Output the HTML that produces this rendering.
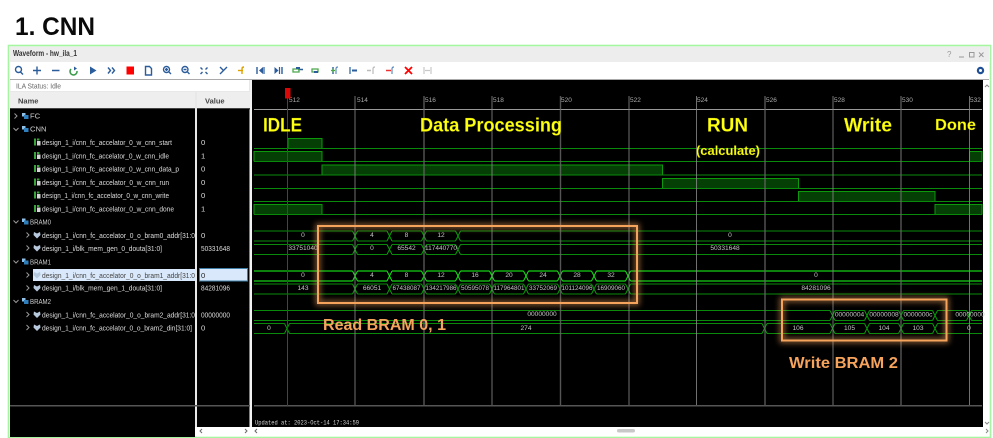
<!DOCTYPE html>
<html><head><meta charset="utf-8"><style>
html,body{margin:0;padding:0;background:#fff;width:993px;height:438px;overflow:hidden}
svg{display:block;filter:blur(.25px)}
text{font-family:"Liberation Sans",sans-serif}
.n{font-size:7.6px;fill:#ddd}
.v{font-size:7.6px;fill:#ddd}
.w{font-size:6.6px;fill:#c4c4c4;text-anchor:middle}
.t{font-size:6.5px;fill:#aaa}
.g{font-size:7.6px;fill:#ccc}
.y{font-weight:bold;fill:#ffff10;stroke:#7a8000;stroke-width:.25}
.o{font-weight:bold;fill:#f6a35c}
</style></head><body>
<svg width="993" height="438" viewBox="0 0 993 438" xmlns="http://www.w3.org/2000/svg">
<defs>
<filter id="gl" x="-15%" y="-25%" width="130%" height="150%"><feGaussianBlur stdDeviation="3"/></filter>
<g id="x"><rect x="-2.5" y="-1" width="5" height="12" fill="#000"/><path d="M-2.5 0 2.5 10M-2.5 10 2.5 0" fill="none" stroke="currentColor" stroke-width="1"/></g>
<g id="c"><path d="M-1.5 -2.5 1 0-1.5 2.5" fill="none" stroke="#999" stroke-width="1"/></g>
<g id="d"><path d="M-2.5 -1 0 1.5 2.5 -1" fill="none" stroke="#999" stroke-width="1"/></g>
<g id="f"><rect x="0" y="-3" width="3.5" height="3.5" fill="#8fc1e8"/><rect x="2" y="-1" width="4.5" height="4" fill="#2f7fbc"/></g>
<g id="s"><rect x="0" y="-3.5" width="2" height="7" fill="#3aa53a"/><rect x="3" y="-1" width="3.5" height="4.5" fill="#d5d5d5"/><rect x="3" y="-3.5" width="2.5" height="2" fill="#3aa53a"/></g>
<g id="b"><path d="M0 -3 3 -1.5 6 -3 6.5 0 3 3.5 -.5 0Z" fill="#b6c8dc"/></g>
</defs>

<rect width="993" height="438" fill="#fff"/>
<text x="15" y="35" font-size="25" font-weight="bold" textLength="80" lengthAdjust="spacingAndGlyphs" fill="#0a0a0a">1. CNN</text>

<!-- window -->
<rect x="8.5" y="45.5" width="982" height="392" fill="#fff" stroke="#a6f5a0" stroke-width="1.6"/>
<rect x="10" y="46.500" width="979" height="15.500" fill="#ededed"/>
<text x="13" y="56" font-size="7.800" font-weight="bold" fill="#333" textLength="64" lengthAdjust="spacingAndGlyphs">Waveform - hw_ila_1</text>
<text x="947" y="57" font-size="8" fill="#999">?</text>
<path d="M959 57h5" stroke="#999" stroke-width="1"/>
<rect x="969.500" y="52.500" width="4.500" height="4.500" fill="none" stroke="#999"/>
<path d="M979 52.500l4.500 4.500M983.500 52.500l-4.500 4.500" stroke="#999"/>

<!-- toolbar -->
<g fill="none" stroke="#2b5c9b" stroke-width="1.400">
<circle cx="18.500" cy="69.500" r="3"/><path d="M20.500 72l2.500 2.500"/>
<path d="M33 70.500h8M37 66.500v8M52 70.500h7.500"/>
<path d="M108 67.500l2.500 3-2.500 3M112 67.500l2.500 3-2.500 3"/>
<path d="M145.500 66.500h4l2 2v6.500h-6z"/>
<circle cx="166.500" cy="69.500" r="3"/><path d="M169 72l2 2M165 69.500h3M166.500 68v3"/>
<circle cx="185" cy="69.500" r="3"/><path d="M187.500 72l2 2M183.500 69.500h3"/>
<path d="M200.500 67.500l2 2M207.500 67.500l-2 2M200.500 74l2-2M207.500 74l-2-2"/>
<path d="M220 74l7-7M220 67l3 3"/>
<path d="M257 67v7M282 67v7M298 69.500h5"/>
<path d="M333 67v7M350 67v7"/>
</g>
<path d="M71 69a3.500 3.500 0 1 0 6 2" fill="none" stroke="#3a9a4a" stroke-width="1.500"/><path d="M74 66.500v4l3-2z" fill="#2b5c9b"/>
<path d="M90 66.500l6.500 4-6.500 4z" fill="#2b5c9b"/>
<rect x="126.500" y="66.500" width="7.500" height="8" fill="#f00"/>
<path d="M238 70.500h5" stroke="#e0a000" stroke-width="1.400"/><path d="M242 74v-5q0-2 2-2" fill="none" stroke="#e0a000" stroke-width="1.400"/>
<path d="M259 70.500l4-3.500v7zM274.500 67l4 3.500-4 3.500z" fill="#2b5c9b"/><path d="M264 67v7M279.500 67v7" stroke="#2b5c9b" stroke-width="1.200"/>
<path d="M293 69h6v3h-6z" fill="none" stroke="#4aa84a" stroke-width="1.300"/><rect x="296" y="67" width="4" height="2" fill="#2b5c9b"/>
<path d="M312 69h6v3h-6z" fill="none" stroke="#4aa84a" stroke-width="1.300"/><rect x="314" y="71" width="4" height="2" fill="#2b5c9b"/>
<path d="M331 70.500h4M333 68.500v4" stroke="#4aa84a" stroke-width="1.200"/><path d="M336 74v-5q0-2 2-2" fill="none" stroke="#5b8bc0" stroke-width="1.200"/>
<path d="M350 67v7" stroke="#5b8bc0" stroke-width="1.200"/><path d="M352 70.500h5" stroke="#2b5c9b" stroke-width="2"/>
<path d="M367 70.500h4" stroke="#bbb" stroke-width="1.500"/><path d="M373 74v-5q0-2 2-2" fill="none" stroke="#bbb" stroke-width="1.200"/>
<path d="M386 70.500h5" stroke="#e33" stroke-width="1.500"/><path d="M392 74v-5q0-2 2-2" fill="none" stroke="#5b8bc0" stroke-width="1.200"/>
<path d="M405 67l7 7M412 67l-7 7" stroke="#f00" stroke-width="1.800"/>
<path d="M424 67v7M431 67v7M425 70.500h5" stroke="#c8c8c8" stroke-width="1.200"/>
<circle cx="980.500" cy="70.500" r="2.600" fill="none" stroke="#1f4f96" stroke-width="2.200"/>

<rect x="10" y="79" width="979" height="1" fill="#aaa"/>
<!-- left column -->
<rect x="10" y="80" width="240" height="12" fill="#e8e8e8"/>
<rect x="10.500" y="80" width="238.500" height="11" fill="#fff"/>
<text x="16" y="88.500" font-size="7.500" fill="#666" textLength="45" lengthAdjust="spacingAndGlyphs">ILA Status:  Idle</text>
<rect x="10" y="92" width="240" height="17" fill="#eeeeee"/>
<text x="18" y="103.500" font-size="7.500" font-weight="bold" fill="#444">Name</text>
<text x="205" y="103.500" font-size="7.500" font-weight="bold" fill="#444">Value</text>
<rect x="10" y="108" width="240" height="1.500" fill="#444"/>
<rect x="10" y="109" width="185" height="328" fill="#000"/>
<rect x="197" y="109" width="52.500" height="318" fill="#000"/>
<rect x="195" y="92" width="2" height="345" fill="#e8e8e8"/>
<rect x="250" y="80" width="2" height="347" fill="#f2f2f2"/>
<rect x="10" y="405" width="240" height="1.500" fill="#555"/>

<!-- selected -->
<rect x="33" y="269" width="162" height="12" fill="#d9e8fa"/>
<rect x="199.500" y="268.500" width="48" height="12.500" fill="#d9e8fa" stroke="#3f7fa8"/>

<!-- tree -->
<use href="#c" x="16" y="116"/><use href="#f" x="22" y="116"/><text class="g" x="30" y="118.500">FC</text>
<use href="#d" x="16" y="129"/><use href="#f" x="22" y="129"/><text class="g" x="30" y="131.500">CNN</text>
<use href="#s" x="34" y="142"/><text class="n" x="42" y="145" textLength="130" lengthAdjust="spacingAndGlyphs">design_1_i/cnn_fc_accelator_0_w_cnn_start</text><text class="v" x="201" y="145">0</text>
<use href="#s" x="34" y="155.500"/><text class="n" x="42" y="158.500" textLength="127" lengthAdjust="spacingAndGlyphs">design_1_i/cnn_fc_accelator_0_w_cnn_idle</text><text class="v" x="201" y="158.500">1</text>
<use href="#s" x="34" y="168.500"/><text class="n" x="42" y="171.500" textLength="137" lengthAdjust="spacingAndGlyphs">design_1_i/cnn_fc_accelator_0_w_cnn_data_p</text><text class="v" x="201" y="171.500">0</text>
<use href="#s" x="34" y="182"/><text class="n" x="42" y="185" textLength="127" lengthAdjust="spacingAndGlyphs">design_1_i/cnn_fc_accelator_0_w_cnn_run</text><text class="v" x="201" y="185">0</text>
<use href="#s" x="34" y="195"/><text class="n" x="42" y="198" textLength="127" lengthAdjust="spacingAndGlyphs">design_1_i/cnn_fc_accelator_0_w_cnn_write</text><text class="v" x="201" y="198">0</text>
<use href="#s" x="34" y="208.500"/><text class="n" x="42" y="211.500" textLength="132" lengthAdjust="spacingAndGlyphs">design_1_i/cnn_fc_accelator_0_w_cnn_done</text><text class="v" x="201" y="211.500">1</text>
<use href="#d" x="16" y="221.500"/><use href="#f" x="22" y="221.500"/><text class="g" x="30" y="224.500" textLength="21" lengthAdjust="spacingAndGlyphs">BRAM0</text>
<use href="#c" x="28" y="235"/><use href="#b" x="34" y="235"/><text class="n" x="42" y="238" textLength="153" lengthAdjust="spacingAndGlyphs">design_1_i/cnn_fc_accelator_0_o_bram0_addr[31:0</text><text class="v" x="201" y="238">0</text>
<use href="#c" x="28" y="248"/><use href="#b" x="34" y="248"/><text class="n" x="42" y="251" textLength="120" lengthAdjust="spacingAndGlyphs">design_1_i/blk_mem_gen_0_douta[31:0]</text><text class="v" x="201" y="251" textLength="29" lengthAdjust="spacingAndGlyphs">50331648</text>
<use href="#d" x="16" y="261.500"/><use href="#f" x="22" y="261.500"/><text class="g" x="30" y="264.500" textLength="21" lengthAdjust="spacingAndGlyphs">BRAM1</text>
<use href="#c" x="28" y="275"/><use href="#b" x="34" y="275"/><text x="42" y="278" font-size="7.600" fill="#444" textLength="153" lengthAdjust="spacingAndGlyphs">design_1_i/cnn_fc_accelator_0_o_bram1_addr[31:0</text><text x="201" y="278" font-size="7.600" fill="#222">0</text>
<use href="#c" x="28" y="288"/><use href="#b" x="34" y="288"/><text class="n" x="42" y="290.500" textLength="120" lengthAdjust="spacingAndGlyphs">design_1_i/blk_mem_gen_1_douta[31:0]</text><text class="v" x="201" y="290.500" textLength="29" lengthAdjust="spacingAndGlyphs">84281096</text>
<use href="#d" x="16" y="301"/><use href="#f" x="22" y="301"/><text class="g" x="30" y="304" textLength="21" lengthAdjust="spacingAndGlyphs">BRAM2</text>
<use href="#c" x="28" y="314.500"/><use href="#b" x="34" y="314.500"/><text class="n" x="42" y="317.500" textLength="153" lengthAdjust="spacingAndGlyphs">design_1_i/cnn_fc_accelator_0_o_bram2_addr[31:0</text><text class="v" x="201" y="317.500" textLength="29" lengthAdjust="spacingAndGlyphs">00000000</text>
<use href="#c" x="28" y="327.500"/><use href="#b" x="34" y="327.500"/><text class="n" x="42" y="330.500" textLength="150" lengthAdjust="spacingAndGlyphs">design_1_i/cnn_fc_accelator_0_o_bram2_din[31:0]</text><text class="v" x="201" y="330.500">0</text>

<!-- wave panel -->
<rect x="252" y="80" width="731" height="347" fill="#000"/>

<!-- digital fills -->
<g fill="#063f06" stroke="#0c9a0c" stroke-width="1">
<path d="M288 148V138.500H322V148"/>
<path d="M254 161.500V151.500H322V161.500"/>
<path d="M969.500 161.500V151.500H982V161.500"/>
<path d="M322 175V165H662.500V175"/>
<path d="M662.500 188V178.500H798.500V188"/>
<path d="M798.500 201.500V191.500H935V201.500"/>
<path d="M254 214.500V204.500H322V214.500"/>
<path d="M935 214.500V204.500H982V214.500"/>
</g>
<g stroke="#0a8a0a" stroke-width="1" fill="none">
<path d="M254 148.500H982M254 161.500H982M254 175H982M254 188.500H982M254 201.500H982M254 214.500H982"/>
</g>
<!-- bus rows -->
<g color="#0a8a0a" stroke="#0a8a0a" stroke-width="1" fill="none">
<path d="M254 231H982M254 241H982"/>
<path d="M254 244.500H982M254 254.500H982"/>
<path d="M254 284H982M254 294H982"/>
<path d="M254 310.500H982M254 320.500H982"/>
<path d="M254 323.500H982M254 333.500H982"/>
</g>
<g stroke="#15d015" stroke-width="1.300" fill="none"><path d="M254 271H982M254 281H982"/></g>
<g color="#0a9a0a">
<use href="#x" x="355" y="231"/><use href="#x" x="389.500" y="231"/><use href="#x" x="424" y="231"/><use href="#x" x="458" y="231"/>
<use href="#x" x="355" y="244.500"/><use href="#x" x="389.500" y="244.500"/><use href="#x" x="424" y="244.500"/><use href="#x" x="458" y="244.500"/>
<use href="#x" x="355" y="284"/><use href="#x" x="389.500" y="284"/><use href="#x" x="424" y="284"/><use href="#x" x="458" y="284"/><use href="#x" x="492" y="284"/><use href="#x" x="526" y="284"/><use href="#x" x="560" y="284"/><use href="#x" x="594" y="284"/><use href="#x" x="628" y="284"/>
<use href="#x" x="832.500" y="310.500"/><use href="#x" x="867" y="310.500"/><use href="#x" x="901" y="310.500"/><use href="#x" x="935" y="310.500"/><use href="#x" x="969" y="310.500"/>
<use href="#x" x="287" y="323.500"/><use href="#x" x="764.500" y="323.500"/><use href="#x" x="832.500" y="323.500"/><use href="#x" x="867" y="323.500"/><use href="#x" x="901" y="323.500"/><use href="#x" x="935" y="323.500"/>
</g>
<g color="#18e018">
<use href="#x" x="355" y="271"/><use href="#x" x="389.500" y="271"/><use href="#x" x="424" y="271"/><use href="#x" x="458" y="271"/><use href="#x" x="492" y="271"/><use href="#x" x="526" y="271"/><use href="#x" x="560" y="271"/><use href="#x" x="594" y="271"/><use href="#x" x="628" y="271"/>
</g>

<!-- grid -->
<rect x="254" y="109" width="728" height="1" fill="#999"/>
<g fill="none" stroke-opacity=".8">
<path d="M355 96V406M492 96V406M629 96V406M696.500 96V406M833 96V406M969.500 96V406" stroke="#8c8c8c" stroke-width="1"/>
<path d="M424 96V406M560.500 96V406M765 96V406M901 96V406" stroke="#6a6a6a" stroke-width="1.400"/>
</g>
<rect x="254" y="405" width="728" height="1.500" fill="#555"/>
<g class="t">
<text class="t" x="289" y="102">512</text><text class="t" x="357" y="102">514</text><text class="t" x="425" y="102">516</text><text class="t" x="493" y="102">518</text><text class="t" x="561" y="102">520</text><text class="t" x="630" y="102">522</text><text class="t" x="697" y="102">524</text><text class="t" x="766" y="102">526</text><text class="t" x="834" y="102">528</text><text class="t" x="902" y="102">530</text><text class="t" x="970" y="102">532</text>
</g>
<!-- cursor -->
<path d="M287.500 92V406" stroke="#c01010" stroke-width="1"/>
<rect x="285" y="88" width="5.500" height="10.500" fill="#d80808"/>

<!-- bus values -->
<text class="w" x="303" y="237">0</text><text class="w" x="372" y="237">4</text><text class="w" x="406.500" y="237">8</text><text class="w" x="441" y="237">12</text><text class="w" x="730" y="237">0</text>
<text class="w" x="303" y="250">33751040</text><text class="w" x="372" y="250">0</text><text class="w" x="406.500" y="250">65542</text><text class="w" x="441" y="250" textLength="32" lengthAdjust="spacingAndGlyphs">117440770</text><text class="w" x="725" y="250">50331648</text>
<text class="w" x="303" y="277">0</text><text class="w" x="372" y="277">4</text><text class="w" x="406.500" y="277">8</text><text class="w" x="441" y="277">12</text><text class="w" x="475" y="277">16</text><text class="w" x="509" y="277">20</text><text class="w" x="543" y="277">24</text><text class="w" x="577" y="277">28</text><text class="w" x="611" y="277">32</text><text class="w" x="816" y="277">0</text>
<text class="w" x="303" y="290">143</text><text class="w" x="372" y="290">66051</text><text class="w" x="406.500" y="290" textLength="28" lengthAdjust="spacingAndGlyphs">67438087</text><text class="w" x="441" y="290" textLength="31" lengthAdjust="spacingAndGlyphs">134217986</text><text class="w" x="475" y="290" textLength="28" lengthAdjust="spacingAndGlyphs">50595078</text><text class="w" x="509" y="290" textLength="31" lengthAdjust="spacingAndGlyphs">117964801</text><text class="w" x="543" y="290" textLength="28" lengthAdjust="spacingAndGlyphs">33752069</text><text class="w" x="577" y="290" textLength="31" lengthAdjust="spacingAndGlyphs">101124096</text><text class="w" x="611" y="290" textLength="28" lengthAdjust="spacingAndGlyphs">16909060</text><text class="w" x="816" y="290">84281096</text>
<text class="w" x="542" y="316">00000000</text><text class="w" x="849.500" y="316.500">00000004</text><text class="w" x="884" y="316.500">00000008</text><text class="w" x="918" y="316.500">0000000c</text><text class="w" x="970" y="316.500">00000000</text>
<text class="w" x="269" y="330">0</text><text class="w" x="526" y="330">274</text><text class="w" x="798" y="330">106</text><text class="w" x="849.500" y="330">105</text><text class="w" x="884" y="330">104</text><text class="w" x="918" y="330">103</text><text class="w" x="969" y="330">0</text>

<!-- orange boxes -->
<rect x="318" y="226" width="319" height="77" fill="none" stroke="#f6a35c" stroke-width="5" stroke-opacity=".55" filter="url(#gl)"/>
<rect x="318" y="226" width="319" height="77" fill="none" stroke="#f6a35c" stroke-width="2"/>
<rect x="782" y="299.500" width="164.500" height="41" fill="none" stroke="#f6a35c" stroke-width="5" stroke-opacity=".55" filter="url(#gl)"/>
<rect x="782" y="299.500" width="164.500" height="41" fill="none" stroke="#f6a35c" stroke-width="2"/>

<!-- annotations -->
<text class="y" x="263" y="131.500" font-size="19" textLength="39" lengthAdjust="spacingAndGlyphs">IDLE</text>
<text class="y" x="420" y="131.500" font-size="19" textLength="142" lengthAdjust="spacingAndGlyphs">Data Processing</text>
<text class="y" x="707" y="131.500" font-size="19" textLength="41" lengthAdjust="spacingAndGlyphs">RUN</text>
<text class="y" x="844" y="131.500" font-size="19" textLength="48" lengthAdjust="spacingAndGlyphs">Write</text>
<text class="y" x="935" y="130" font-size="15.500" textLength="41" lengthAdjust="spacingAndGlyphs">Done</text>
<text class="y" x="696" y="155" font-size="12.500" textLength="64" lengthAdjust="spacingAndGlyphs">(calculate)</text>
<text class="o" x="323" y="330" font-size="15.500" textLength="123" lengthAdjust="spacingAndGlyphs">Read BRAM 0, 1</text>
<text class="o" x="789" y="368" font-size="15.500" textLength="109" lengthAdjust="spacingAndGlyphs">Write BRAM 2</text>

<!-- footer -->
<text x="255" y="424.500" font-family="Liberation Mono" style="font-family:'Liberation Mono',monospace" font-size="6.400" fill="#d5d5d5" textLength="104" lengthAdjust="spacingAndGlyphs">Updated at: 2023-Oct-14 17:34:59</text>
<rect x="10" y="427" width="979" height="9" fill="#fff"/>
<rect x="10" y="427" width="185" height="9.500" fill="#000"/>
<path d="M202 429l-2 2 2 2M245 429l2 2-2 2M257 429l-2 2 2 2" fill="none" stroke="#666"/>
<rect x="617" y="429" width="18" height="3.500" rx="1.700" fill="#c8c8c8"/>
<path d="M985 87l2-2 2 2M985 422l2 2 2-2M986 429l2 2-2 2" fill="none" stroke="#888"/>
<rect x="983" y="80" width="6" height="347" fill="#fff" fill-opacity="0"/>
</svg>
</body></html>
